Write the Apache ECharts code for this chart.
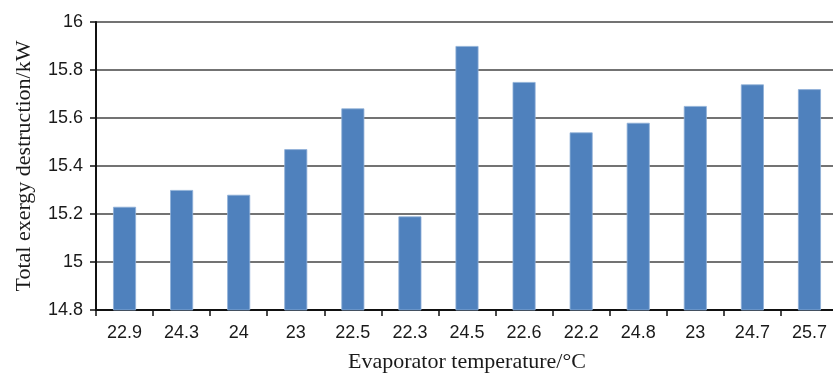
<!DOCTYPE html>
<html><head><meta charset="utf-8">
<script src="https://cdn.jsdelivr.net/npm/echarts@6/dist/echarts.min.js"></script>
<style>html,body{margin:0;padding:0;background:#fff}#c{width:833px;height:373px}</style>
</head><body><div id="c"></div>
<script>
var categories = ['22.9','24.3','24','23','22.5','22.3','24.5','22.6','22.2','24.8','23','24.7','25.7'];
var values = [15.23,15.30,15.28,15.47,15.64,15.19,15.90,15.75,15.54,15.58,15.65,15.74,15.72];
var yTicks = {min:14.8, max:16, interval:0.2};
var xTitle = 'Evaporator temperature/°C';
var yTitle = 'Total exergy destruction/kW';

var chart = echarts.init(document.getElementById('c'));
chart.setOption({
  animation:false,
  grid:{left:96, top:22, width:742, height:288, containLabel:false, outerBoundsMode:'none'},
  xAxis:{
    type:'category', data:categories,
    name:xTitle, nameLocation:'middle', nameGap:41,
    nameTextStyle:{fontFamily:'Liberation Serif', fontSize:22, color:'#1a1a1a'},
    axisLine:{lineStyle:{color:'#111', width:2}},
    axisTick:{show:true, length:6, lineStyle:{color:'#111', width:1.5}, alignWithLabel:false},
    axisLabel:{fontFamily:'Liberation Sans', fontSize:18, color:'#1a1a1a', margin:14}
  },
  yAxis:{
    type:'value', min:yTicks.min, max:yTicks.max, interval:yTicks.interval,
    name:yTitle, nameLocation:'middle', nameGap:61,
    nameTextStyle:{fontFamily:'Liberation Serif', fontSize:22, color:'#1a1a1a'},
    axisLine:{show:true, lineStyle:{color:'#111', width:2}},
    axisTick:{show:true, length:6, lineStyle:{color:'#111', width:1.5}},
    splitLine:{show:true, lineStyle:{color:'#444', width:1.5}},
    axisLabel:{fontFamily:'Liberation Sans', fontSize:18, color:'#1a1a1a', margin:13,
      formatter:function(v){return String(Math.round(v*10)/10);}}
  },
  series:[{
    type:'bar', data:values, barWidth:23,
    itemStyle:{color:'#4F81BD', borderColor:'#8FB0D8', borderWidth:0.8}
  }]
});
</script></body></html>
